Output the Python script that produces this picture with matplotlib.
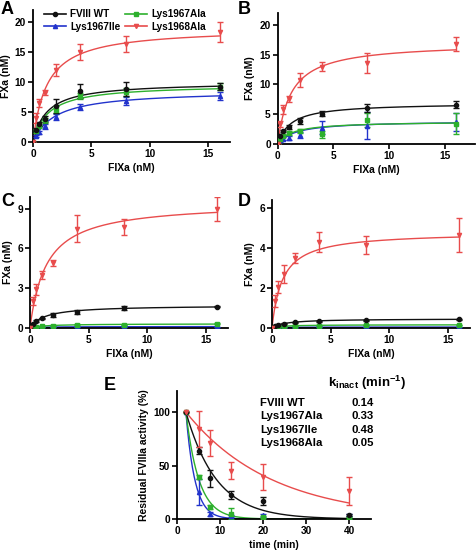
import numpy as np
import matplotlib
matplotlib.use("Agg")
import matplotlib.pyplot as plt

plt.rcParams['font.family'] = ['Liberation Sans', 'DejaVu Sans']
plt.rcParams['font.weight'] = 'bold'
plt.rcParams['mathtext.fontset'] = 'custom'
plt.rcParams['mathtext.rm'] = 'Liberation Sans:bold'
plt.rcParams['mathtext.it'] = 'Liberation Sans:bold'
plt.rcParams['mathtext.bf'] = 'Liberation Sans:bold'

names = ["FVIII WT", "Lys1967Ile", "Lys1967Ala", "Lys1968Ala"]
colors = ["#111111", "#2233cc", "#2db02d", "#e84c4c"]
markers = ["o", "^", "s", "v"]

conc = [0, 0.25, 0.5, 1, 2, 4, 8, 16]

# Panel A
A_mean = [[0, 2.0, 3.0, 3.9, 6.0, 8.5, 8.8, 9.2],
          [0, 1.0, 1.6, 2.6, 4.2, 5.9, 6.8, 7.7],
          [0, 1.8, 2.6, 3.6, 5.4, 7.6, 8.3, 9.2],
          [0, 4.0, 6.5, 8.2, 12.0, 15.0, 16.3, 18.3]]
A_err = [[0, 0.3, 0.4, 0.5, 1.2, 1.1, 1.2, 0.6],
         [0, 0.2, 0.3, 0.4, 0.5, 0.5, 0.7, 0.7],
         [0, 0.3, 0.3, 0.4, 0.6, 0.5, 0.7, 0.6],
         [0, 0.8, 0.6, 0.4, 1.0, 1.4, 1.3, 1.7]]
A_vmax = [10.0, 8.6, 9.6, 19.0]
A_km = [1.2, 1.9, 1.3, 1.2]

# Panel B
B_mean = [[0, 1.4, 2.2, 2.9, 3.9, 5.1, 6.0, 6.6],
          [0, 0.6, 0.9, 1.0, 1.5, 2.7, 3.1, 3.7],
          [0, 0.9, 1.4, 1.8, 2.2, 1.6, 4.0, 3.4],
          [0, 3.3, 5.8, 7.6, 10.7, 13.0, 13.6, 16.8]]
B_err = [[0, 0.2, 0.2, 0.3, 0.5, 0.4, 0.7, 0.6],
         [0, 0.2, 0.3, 0.4, 0.5, 1.1, 2.3, 1.5],
         [0, 0.2, 0.3, 0.3, 0.3, 0.6, 1.2, 1.8],
         [0, 0.5, 0.8, 0.5, 1.2, 0.7, 1.7, 1.2]]
B_vmax = [6.9, 3.9, 3.8, 17.0]
B_km = [1.2, 1.6, 1.3, 1.2]

# Panel C
C_mean = [[0, 0.3, 0.5, 0.7, 0.96, 1.22, 1.47, 1.6],
          [0, 0.02, 0.03, 0.04, 0.05, 0.06, 0.07, 0.08],
          [0, 0.05, 0.07, 0.1, 0.15, 0.22, 0.2, 0.3],
          [0, 2.0, 2.9, 4.0, 4.9, 7.5, 7.65, 9.0]]
C_err = [[0, 0.05, 0.05, 0.05, 0.15, 0.15, 0.15, 0.05],
         [0, 0.01, 0.01, 0.01, 0.01, 0.01, 0.01, 0.01],
         [0, 0.03, 0.03, 0.03, 0.03, 0.03, 0.03, 0.03],
         [0, 0.3, 0.4, 0.3, 0.2, 1.0, 0.6, 0.9]]
C_vmax = [1.7, 0.09, 0.3, 9.5]
C_km = [1.3, 1.5, 1.5, 1.4]

# Panel D
D_mean = [[0, 0.1, 0.15, 0.2, 0.27, 0.33, 0.38, 0.43],
          [0, 0.01, 0.01, 0.02, 0.02, 0.03, 0.03, 0.03],
          [0, 0.03, 0.05, 0.07, 0.09, 0.11, 0.14, 0.14],
          [0, 1.33, 2.04, 2.7, 3.5, 4.3, 4.15, 4.65]]
D_err = [[0, 0.02, 0.02, 0.02, 0.02, 0.02, 0.02, 0.02],
         [0, 0.01, 0.01, 0.01, 0.01, 0.01, 0.01, 0.01],
         [0, 0.02, 0.02, 0.02, 0.02, 0.02, 0.02, 0.02],
         [0, 0.3, 0.3, 0.45, 0.25, 0.5, 0.45, 0.85]]
D_vmax = [0.45, 0.035, 0.15, 4.8]
D_km = [1.2, 1.0, 1.0, 0.9]

# Panel E
times = [2, 5, 7.5, 12.5, 20, 40]
E_mean = [[100, 64, 38, 22.5, 17, 4],
          [100, 25, 4.5, 3, 3.5, 3.5],
          [100, 39, 11, 5, 2, 1],
          [100, 84, 71, 45, 39, 26.5]]
E_err = [[0, 3, 8, 4, 4, 1],
         [0, 12, 2, 1, 1.5, 1],
         [0, 2, 2, 5, 1, 1],
         [0, 17, 12, 8, 12, 13]]
k_inact = [0.14, 0.48, 0.33, 0.05]
table_names = ["FVIII WT", "Lys1967Ala", "Lys1967Ile", "Lys1968Ala"]
table_values = ["0.14", "0.33", "0.48", "0.05"]

W, H = 477, 550
fig = plt.figure(figsize=(W / 100, H / 100), dpi=100)


def ax_px(left, right, top, bottom):
    return fig.add_axes([left / W, 1 - bottom / H, (right - left) / W, (bottom - top) / H])


def style(ax):
    for s in ['top', 'right']:
        ax.spines[s].set_visible(False)
    for s in ['left', 'bottom']:
        ax.spines[s].set_linewidth(1.3)
    ax.tick_params(width=1.2, length=3.5, labelsize=7.3, pad=1.5)
    for lab in ax.get_xticklabels() + ax.get_yticklabels():
        lab.set_fontweight('bold')


draw_order = [1, 2, 0, 3]


def mm_panel(ax, means, errs, vmax, km, xlim, ylim, yticks):
    xs = np.linspace(0, 16, 300)
    for i in draw_order:
        ax.plot(xs, vmax[i] * xs / (km[i] + xs), color=colors[i], lw=1.0, zorder=2)
        ax.errorbar(conc, means[i], yerr=errs[i], fmt=markers[i], color=colors[i],
                    ms=3, capsize=2.2, elinewidth=1.0, capthick=1.0, zorder=3)
    ax.set_xlim(*xlim)
    ax.set_ylim(*ylim)
    ax.set_xticks([0, 5, 10, 15])
    ax.set_yticks(yticks)
    ax.set_xlabel("FIXa (nM)", fontsize=7.5, fontweight='bold', labelpad=3)
    ax.set_ylabel("FXa (nM)", fontsize=7.5, fontweight='bold', labelpad=3)
    style(ax)


axA = ax_px(33, 230, 10, 142)
mm_panel(axA, A_mean, A_err, A_vmax, A_km, (0, 16.9), (0, 22), [0, 5, 10, 15, 20])
handles = []
for i in range(4):
    h, = axA.plot([], [], color=colors[i], marker=markers[i], ms=3, lw=1.2)
    handles.append(h)
axA.legend(handles, names, ncol=2, loc='upper left', bbox_to_anchor=(0.02, 1.06),
           frameon=False, prop={'size': 7.2, 'weight': 'bold'}, handlelength=2.2,
           handletextpad=0.4, columnspacing=0.5, labelspacing=0.25, borderpad=0.2)

axB = ax_px(277.7, 475, 13, 144)
mm_panel(axB, B_mean, B_err, B_vmax, B_km, (0, 17.7), (0, 22), [0, 5, 10, 15, 20])

axC = ax_px(30, 228, 197, 327.7)
mm_panel(axC, C_mean, C_err, C_vmax, C_km, (0, 16.9), (0, 9.9), [0, 3, 6, 9])

axD = ax_px(272, 470, 200, 327.7)
mm_panel(axD, D_mean, D_err, D_vmax, D_km, (0, 16.9), (0, 6.4), [0, 2, 4, 6])

axE = ax_px(177.3, 370.7, 390.7, 519)
ts = np.linspace(2, 40, 300)
for i in draw_order:
    axE.plot(ts, 100 * np.exp(-k_inact[i] * (ts - 2)), color=colors[i], lw=1.0, zorder=2)
    axE.errorbar(times, E_mean[i], yerr=E_err[i], fmt=markers[i], color=colors[i],
                 ms=3, capsize=2.2, elinewidth=1.0, capthick=1.0, zorder=3)
axE.set_xlim(0, 45)
axE.set_ylim(0, 120)
axE.set_xticks([0, 10, 20, 30, 40])
axE.set_yticks([0, 50, 100])
axE.set_xlabel("time (min)", fontsize=7.5, fontweight='bold', labelpad=3)
axE.set_ylabel("Residual FVIIIa activity (%)", fontsize=7.5, fontweight='bold', labelpad=3)
style(axE)

# table in E
fig.text(328 / W, 1 - 383 / H, r"k$_{\mathrm{inact}}$ (min$^{-1}$)",
         fontsize=9.5, fontweight='bold', ha='left', va='center')
for j, (n, v) in enumerate(zip(table_names, table_values)):
    y = 1 - (403 + 13.3 * j) / H
    fig.text(260 / W, y, n, fontsize=8.2, fontweight='bold', ha='left', va='center')
    fig.text(352 / W, y, v, fontsize=8.2, fontweight='bold', ha='left', va='center')

# panel letters
for lab, x, y in [("A", 1, 9), ("B", 238, 9), ("C", 1, 202), ("D", 238, 202), ("E", 104, 386)]:
    fig.text(x / W, 1 - y / H, lab, fontsize=13, fontweight='bold', ha='left', va='center')

fig.savefig("out.png", dpi=100)
